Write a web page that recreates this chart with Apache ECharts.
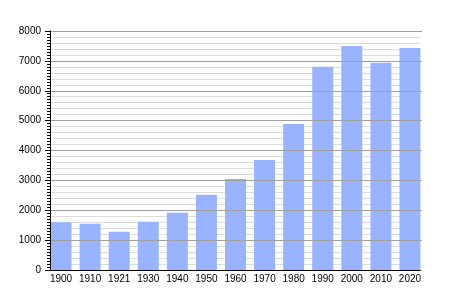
<!DOCTYPE html>
<html><head><meta charset="utf-8">
<script src="https://cdn.jsdelivr.net/npm/echarts@6/dist/echarts.min.js"></script>
<style>html,body{margin:0;padding:0;background:#fff}#c{width:450px;height:300px}</style>
</head><body><div id="c"></div>
<script>
const years = ['1900','1910','1921','1930','1940','1950','1960','1970','1980','1990','2000','2010','2020'];
const population = [1600,1550,1280,1615,1920,2520,3050,3680,4890,6800,7500,6940,7430];
const yMin = 0, yMax = 8000, yStep = 1000;

const chart = echarts.init(document.getElementById('c'), null, {renderer:'canvas'});
const font = 'Liberation Sans, Arial, sans-serif';
chart.setOption({
  animation:false,
  backgroundColor:'#fff',
  grid:[
    {left:50, right:30, top:31, bottom:30},
    {left:46.5, right:25.5, top:31, bottom:30}
  ],
  xAxis:[
    {type:'category', gridIndex:0, data:years, axisLabel:{show:false}, axisTick:{show:false},
     axisLine:{show:true, lineStyle:{color:'#000', width:1}}, splitLine:{show:false}, z:5},
    {type:'category', gridIndex:1, data:years, axisLine:{show:false}, axisTick:{show:false},
     axisLabel:{show:true, color:'#000', fontSize:10, fontFamily:font, margin:4}}
  ],
  yAxis:[
    {type:'value', gridIndex:0, min:yMin, max:yMax, interval:yStep,
     axisLine:{show:true, lineStyle:{color:'#000'}},
     axisTick:{show:true, length:5, lineStyle:{color:'#000'}},
     minorTick:{show:true, splitNumber:10, length:3, lineStyle:{color:'#000'}},
     axisLabel:{color:'#000', fontSize:10, fontFamily:font, margin:9, formatter:v => String(v)},
     splitLine:{show:true, lineStyle:{color:'#a0a0a0', width:1}}, z:5},
    {type:'value', gridIndex:0, min:yMin, max:yMax, interval:yStep,
     axisLine:{show:false}, axisTick:{show:false}, axisLabel:{show:false},
     splitLine:{show:false},
     minorTick:{show:false, splitNumber:5},
     minorSplitLine:{show:true, lineStyle:{color:'#dcdcdc', width:1}}},
    {type:'value', gridIndex:0, position:'right', min:yMin, max:yMax, interval:yStep,
     axisLine:{show:false}, axisTick:{show:true, length:2, lineStyle:{color:'#a0a0a0'}},
     axisLabel:{show:false}, splitLine:{show:false}},
    {type:'value', gridIndex:1, min:yMin, max:yMax, interval:yStep, show:false}
  ],
  series:[{
    type:'bar', xAxisIndex:1, yAxisIndex:3, data:population, barWidth:21,
    itemStyle:{color:'#99b3ff'}
  }]
});
</script></body></html>
